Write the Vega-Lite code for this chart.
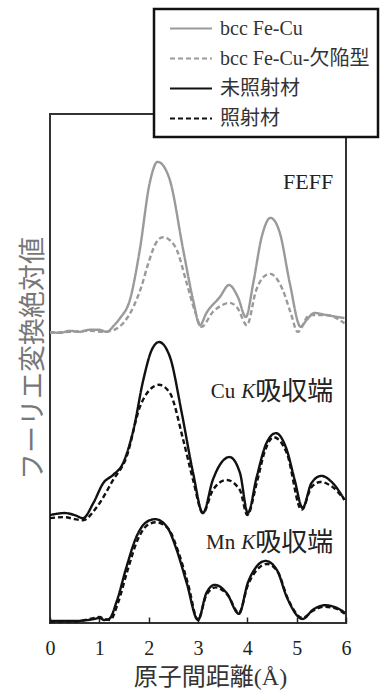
{
  "$schema": "https://vega.github.io/schema/vega-lite/v6.json",
  "width": 296,
  "height": 509,
  "autosize": {"type": "none"},
  "padding": {"left": 50, "top": 114, "right": 38, "bottom": 70},
  "background": "white",
  "config": {
    "view": {"stroke": "#333", "strokeWidth": 2},
    "font": "Liberation Serif"
  },
  "datasets": {
    "curves": [
      {"edge":"FEFF","series":"bcc Fe-Cu","r":0,"v":5.72},
      {"edge":"FEFF","series":"bcc Fe-Cu","r":0.2,"v":5.7},
      {"edge":"FEFF","series":"bcc Fe-Cu","r":0.4,"v":5.74},
      {"edge":"FEFF","series":"bcc Fe-Cu","r":0.6,"v":5.72},
      {"edge":"FEFF","series":"bcc Fe-Cu","r":0.8,"v":5.76},
      {"edge":"FEFF","series":"bcc Fe-Cu","r":1.0,"v":5.76},
      {"edge":"FEFF","series":"bcc Fe-Cu","r":1.15,"v":5.72},
      {"edge":"FEFF","series":"bcc Fe-Cu","r":1.3,"v":5.85},
      {"edge":"FEFF","series":"bcc Fe-Cu","r":1.42,"v":5.99},
      {"edge":"FEFF","series":"bcc Fe-Cu","r":1.62,"v":6.35},
      {"edge":"FEFF","series":"bcc Fe-Cu","r":1.82,"v":7.33},
      {"edge":"FEFF","series":"bcc Fe-Cu","r":2.02,"v":8.64},
      {"edge":"FEFF","series":"bcc Fe-Cu","r":2.18,"v":9.06},
      {"edge":"FEFF","series":"bcc Fe-Cu","r":2.3,"v":8.98},
      {"edge":"FEFF","series":"bcc Fe-Cu","r":2.43,"v":8.7},
      {"edge":"FEFF","series":"bcc Fe-Cu","r":2.7,"v":7.33},
      {"edge":"FEFF","series":"bcc Fe-Cu","r":2.9,"v":6.35},
      {"edge":"FEFF","series":"bcc Fe-Cu","r":3.04,"v":5.85},
      {"edge":"FEFF","series":"bcc Fe-Cu","r":3.17,"v":6.09},
      {"edge":"FEFF","series":"bcc Fe-Cu","r":3.44,"v":6.4},
      {"edge":"FEFF","series":"bcc Fe-Cu","r":3.63,"v":6.64},
      {"edge":"FEFF","series":"bcc Fe-Cu","r":3.81,"v":6.4},
      {"edge":"FEFF","series":"bcc Fe-Cu","r":3.97,"v":6.01},
      {"edge":"FEFF","series":"bcc Fe-Cu","r":4.12,"v":6.68},
      {"edge":"FEFF","series":"bcc Fe-Cu","r":4.29,"v":7.58},
      {"edge":"FEFF","series":"bcc Fe-Cu","r":4.47,"v":7.96},
      {"edge":"FEFF","series":"bcc Fe-Cu","r":4.66,"v":7.66},
      {"edge":"FEFF","series":"bcc Fe-Cu","r":4.86,"v":6.68},
      {"edge":"FEFF","series":"bcc Fe-Cu","r":5.08,"v":5.82},
      {"edge":"FEFF","series":"bcc Fe-Cu","r":5.2,"v":5.95},
      {"edge":"FEFF","series":"bcc Fe-Cu","r":5.36,"v":6.09},
      {"edge":"FEFF","series":"bcc Fe-Cu","r":5.6,"v":6.05},
      {"edge":"FEFF","series":"bcc Fe-Cu","r":5.97,"v":5.99},

      {"edge":"FEFF","series":"bcc Fe-Cu-欠陥型","r":0,"v":5.7},
      {"edge":"FEFF","series":"bcc Fe-Cu-欠陥型","r":0.4,"v":5.72},
      {"edge":"FEFF","series":"bcc Fe-Cu-欠陥型","r":0.8,"v":5.74},
      {"edge":"FEFF","series":"bcc Fe-Cu-欠陥型","r":1.1,"v":5.72},
      {"edge":"FEFF","series":"bcc Fe-Cu-欠陥型","r":1.3,"v":5.76},
      {"edge":"FEFF","series":"bcc Fe-Cu-欠陥型","r":1.5,"v":5.91},
      {"edge":"FEFF","series":"bcc Fe-Cu-欠陥型","r":1.7,"v":6.23},
      {"edge":"FEFF","series":"bcc Fe-Cu-欠陥型","r":1.85,"v":6.6},
      {"edge":"FEFF","series":"bcc Fe-Cu-欠陥型","r":2.0,"v":7.09},
      {"edge":"FEFF","series":"bcc Fe-Cu-欠陥型","r":2.15,"v":7.47},
      {"edge":"FEFF","series":"bcc Fe-Cu-欠陥型","r":2.29,"v":7.58},
      {"edge":"FEFF","series":"bcc Fe-Cu-欠陥型","r":2.43,"v":7.52},
      {"edge":"FEFF","series":"bcc Fe-Cu-欠陥型","r":2.57,"v":7.33},
      {"edge":"FEFF","series":"bcc Fe-Cu-欠陥型","r":2.77,"v":6.68},
      {"edge":"FEFF","series":"bcc Fe-Cu-欠陥型","r":2.93,"v":6.15},
      {"edge":"FEFF","series":"bcc Fe-Cu-欠陥型","r":3.07,"v":5.82},
      {"edge":"FEFF","series":"bcc Fe-Cu-欠陥型","r":3.3,"v":6.11},
      {"edge":"FEFF","series":"bcc Fe-Cu-欠陥型","r":3.5,"v":6.25},
      {"edge":"FEFF","series":"bcc Fe-Cu-欠陥型","r":3.64,"v":6.29},
      {"edge":"FEFF","series":"bcc Fe-Cu-欠陥型","r":3.8,"v":6.19},
      {"edge":"FEFF","series":"bcc Fe-Cu-欠陥型","r":3.99,"v":5.85},
      {"edge":"FEFF","series":"bcc Fe-Cu-欠陥型","r":4.18,"v":6.54},
      {"edge":"FEFF","series":"bcc Fe-Cu-欠陥型","r":4.33,"v":6.8},
      {"edge":"FEFF","series":"bcc Fe-Cu-欠陥型","r":4.47,"v":6.86},
      {"edge":"FEFF","series":"bcc Fe-Cu-欠陥型","r":4.6,"v":6.76},
      {"edge":"FEFF","series":"bcc Fe-Cu-欠陥型","r":4.72,"v":6.54},
      {"edge":"FEFF","series":"bcc Fe-Cu-欠陥型","r":4.88,"v":6.09},
      {"edge":"FEFF","series":"bcc Fe-Cu-欠陥型","r":5.02,"v":5.72},
      {"edge":"FEFF","series":"bcc Fe-Cu-欠陥型","r":5.26,"v":6.05},
      {"edge":"FEFF","series":"bcc Fe-Cu-欠陥型","r":5.6,"v":6.05},
      {"edge":"FEFF","series":"bcc Fe-Cu-欠陥型","r":5.97,"v":5.89},

      {"edge":"Cu","series":"未照射材","r":0,"v":2.12},
      {"edge":"Cu","series":"未照射材","r":0.3,"v":2.16},
      {"edge":"Cu","series":"未照射材","r":0.5,"v":2.12},
      {"edge":"Cu","series":"未照射材","r":0.67,"v":2.06},
      {"edge":"Cu","series":"未照射材","r":0.88,"v":2.36},
      {"edge":"Cu","series":"未照射材","r":1.08,"v":2.75},
      {"edge":"Cu","series":"未照射材","r":1.28,"v":2.91},
      {"edge":"Cu","series":"未照射材","r":1.48,"v":3.14},
      {"edge":"Cu","series":"未照射材","r":1.69,"v":3.79},
      {"edge":"Cu","series":"未照射材","r":1.89,"v":4.77},
      {"edge":"Cu","series":"未照射材","r":2.06,"v":5.36},
      {"edge":"Cu","series":"未照射材","r":2.21,"v":5.52},
      {"edge":"Cu","series":"未照射材","r":2.43,"v":5.23},
      {"edge":"Cu","series":"未照射材","r":2.67,"v":4.13},
      {"edge":"Cu","series":"未照射材","r":2.9,"v":2.95},
      {"edge":"Cu","series":"未照射材","r":3.1,"v":2.16},
      {"edge":"Cu","series":"未照射材","r":3.3,"v":2.81},
      {"edge":"Cu","series":"未照射材","r":3.48,"v":3.16},
      {"edge":"Cu","series":"未照射材","r":3.64,"v":3.26},
      {"edge":"Cu","series":"未照射材","r":3.85,"v":2.95},
      {"edge":"Cu","series":"未照射材","r":4.01,"v":2.16},
      {"edge":"Cu","series":"未照射材","r":4.19,"v":2.87},
      {"edge":"Cu","series":"未照射材","r":4.39,"v":3.54},
      {"edge":"Cu","series":"未照射材","r":4.58,"v":3.73},
      {"edge":"Cu","series":"未照射材","r":4.8,"v":3.4},
      {"edge":"Cu","series":"未照射材","r":4.96,"v":2.81},
      {"edge":"Cu","series":"未照射材","r":5.12,"v":2.26},
      {"edge":"Cu","series":"未照射材","r":5.3,"v":2.75},
      {"edge":"Cu","series":"未照射材","r":5.5,"v":2.89},
      {"edge":"Cu","series":"未照射材","r":5.73,"v":2.75},
      {"edge":"Cu","series":"未照射材","r":5.97,"v":2.42},

      {"edge":"Cu","series":"照射材","r":0,"v":2.06},
      {"edge":"Cu","series":"照射材","r":0.3,"v":2.08},
      {"edge":"Cu","series":"照射材","r":0.5,"v":2.04},
      {"edge":"Cu","series":"照射材","r":0.67,"v":2.02},
      {"edge":"Cu","series":"照射材","r":0.95,"v":2.28},
      {"edge":"Cu","series":"照射材","r":1.28,"v":2.81},
      {"edge":"Cu","series":"照射材","r":1.55,"v":3.26},
      {"edge":"Cu","series":"照射材","r":1.82,"v":4.24},
      {"edge":"Cu","series":"照射材","r":2.02,"v":4.58},
      {"edge":"Cu","series":"照射材","r":2.21,"v":4.68},
      {"edge":"Cu","series":"照射材","r":2.43,"v":4.52},
      {"edge":"Cu","series":"照射材","r":2.7,"v":3.6},
      {"edge":"Cu","series":"照射材","r":2.9,"v":2.81},
      {"edge":"Cu","series":"照射材","r":3.1,"v":2.16},
      {"edge":"Cu","series":"照射材","r":3.3,"v":2.61},
      {"edge":"Cu","series":"照射材","r":3.58,"v":2.81},
      {"edge":"Cu","series":"照射材","r":3.85,"v":2.61},
      {"edge":"Cu","series":"照射材","r":4.0,"v":2.12},
      {"edge":"Cu","series":"照射材","r":4.19,"v":2.75},
      {"edge":"Cu","series":"照射材","r":4.35,"v":3.36},
      {"edge":"Cu","series":"照射材","r":4.53,"v":3.65},
      {"edge":"Cu","series":"照射材","r":4.8,"v":3.34},
      {"edge":"Cu","series":"照射材","r":5.1,"v":2.22},
      {"edge":"Cu","series":"照射材","r":5.3,"v":2.67},
      {"edge":"Cu","series":"照射材","r":5.48,"v":2.77},
      {"edge":"Cu","series":"照射材","r":5.73,"v":2.67},
      {"edge":"Cu","series":"照射材","r":5.97,"v":2.42},

      {"edge":"Mn","series":"未照射材","r":0,"v":0.04},
      {"edge":"Mn","series":"未照射材","r":0.5,"v":0.04},
      {"edge":"Mn","series":"未照射材","r":0.9,"v":0.08},
      {"edge":"Mn","series":"未照射材","r":1.0,"v":0.1},
      {"edge":"Mn","series":"未照射材","r":1.1,"v":0.06},
      {"edge":"Mn","series":"未照射材","r":1.2,"v":0.08},
      {"edge":"Mn","series":"未照射材","r":1.36,"v":0.45},
      {"edge":"Mn","series":"未照射材","r":1.55,"v":1.1},
      {"edge":"Mn","series":"未照射材","r":1.75,"v":1.69},
      {"edge":"Mn","series":"未照射材","r":1.95,"v":1.98},
      {"edge":"Mn","series":"未照射材","r":2.13,"v":2.04},
      {"edge":"Mn","series":"未照射材","r":2.37,"v":1.89},
      {"edge":"Mn","series":"未照射材","r":2.57,"v":1.43},
      {"edge":"Mn","series":"未照射材","r":2.77,"v":0.79},
      {"edge":"Mn","series":"未照射材","r":3.0,"v":0.06},
      {"edge":"Mn","series":"未照射材","r":3.17,"v":0.59},
      {"edge":"Mn","series":"未照射材","r":3.34,"v":0.75},
      {"edge":"Mn","series":"未照射材","r":3.58,"v":0.59},
      {"edge":"Mn","series":"未照射材","r":3.83,"v":0.18},
      {"edge":"Mn","series":"未照射材","r":4.01,"v":0.79},
      {"edge":"Mn","series":"未照射材","r":4.18,"v":1.1},
      {"edge":"Mn","series":"未照射材","r":4.37,"v":1.22},
      {"edge":"Mn","series":"未照射材","r":4.6,"v":1.04},
      {"edge":"Mn","series":"未照射材","r":4.8,"v":0.51},
      {"edge":"Mn","series":"未照射材","r":5.12,"v":0.08},
      {"edge":"Mn","series":"未照射材","r":5.33,"v":0.26},
      {"edge":"Mn","series":"未照射材","r":5.57,"v":0.35},
      {"edge":"Mn","series":"未照射材","r":5.83,"v":0.29},
      {"edge":"Mn","series":"未照射材","r":5.98,"v":0.2},

      {"edge":"Mn","series":"照射材","r":0,"v":0.03},
      {"edge":"Mn","series":"照射材","r":0.5,"v":0.03},
      {"edge":"Mn","series":"照射材","r":0.9,"v":0.1},
      {"edge":"Mn","series":"照射材","r":1.0,"v":0.12},
      {"edge":"Mn","series":"照射材","r":1.1,"v":0.08},
      {"edge":"Mn","series":"照射材","r":1.22,"v":0.06},
      {"edge":"Mn","series":"照射材","r":1.38,"v":0.4},
      {"edge":"Mn","series":"照射材","r":1.57,"v":1.03},
      {"edge":"Mn","series":"照射材","r":1.77,"v":1.62},
      {"edge":"Mn","series":"照射材","r":1.97,"v":1.92},
      {"edge":"Mn","series":"照射材","r":2.15,"v":1.98},
      {"edge":"Mn","series":"照射材","r":2.4,"v":1.85},
      {"edge":"Mn","series":"照射材","r":2.6,"v":1.4},
      {"edge":"Mn","series":"照射材","r":2.8,"v":0.76},
      {"edge":"Mn","series":"照射材","r":3.0,"v":0.06},
      {"edge":"Mn","series":"照射材","r":3.17,"v":0.55},
      {"edge":"Mn","series":"照射材","r":3.36,"v":0.7},
      {"edge":"Mn","series":"照射材","r":3.6,"v":0.55},
      {"edge":"Mn","series":"照射材","r":3.83,"v":0.2},
      {"edge":"Mn","series":"照射材","r":4.01,"v":0.74},
      {"edge":"Mn","series":"照射材","r":4.2,"v":1.05},
      {"edge":"Mn","series":"照射材","r":4.4,"v":1.16},
      {"edge":"Mn","series":"照射材","r":4.62,"v":1.0},
      {"edge":"Mn","series":"照射材","r":4.82,"v":0.48},
      {"edge":"Mn","series":"照射材","r":5.12,"v":0.1},
      {"edge":"Mn","series":"照射材","r":5.33,"v":0.24},
      {"edge":"Mn","series":"照射材","r":5.57,"v":0.32},
      {"edge":"Mn","series":"照射材","r":5.83,"v":0.27},
      {"edge":"Mn","series":"照射材","r":5.98,"v":0.18}
    ],
    "notes": [
      {"key":"FEFF","r":5.74,"v":8.66},
      {"key":"Cu","r":5.74,"v":4.54},
      {"key":"Mn","r":5.74,"v":1.57}
    ]
  },
  "layer": [
    {
      "data": {"name": "curves"},
      "mark": {"type": "line", "strokeWidth": 2.4, "interpolate": "monotone"},
      "encoding": {
        "x": {
          "field": "r", "type": "quantitative",
          "scale": {"domain": [0, 6], "nice": false},
          "axis": {
            "values": [0, 1, 2, 3, 4, 5, 6],
            "domain": false, "grid": false, "labelFlush": false, "labelOverlap": false,
            "tickSize": -6, "tickColor": "#222", "tickWidth": 1.5,
            "labelPadding": 21, "labelFont": "Liberation Serif", "labelFontSize": 20, "labelColor": "#222",
            "title": "原子間距離(Å)", "titleFont": "Liberation Serif, Noto Sans CJK JP", "titleFontSize": 24,
            "titleFontWeight": "normal", "titleColor": "#333",
            "titleX": 160, "titleY": 54, "titleBaseline": "middle", "titleAlign": "center"
          }
        },
        "y": {
          "field": "v", "type": "quantitative",
          "scale": {"domain": [0, 10], "nice": false},
          "axis": {
            "domain": false, "grid": false, "ticks": false, "labels": false,
            "title": "フーリエ変換絶対値", "titleFont": "Noto Sans CJK JP", "titleFontSize": 27,
            "titleFontWeight": "normal", "titleColor": "#777",
            "titleX": -17, "titleY": 244, "titleBaseline": "middle", "titleAlign": "center"
          }
        },
        "color": {
          "field": "series", "type": "nominal",
          "scale": {"domain": ["bcc Fe-Cu", "bcc Fe-Cu-欠陥型", "未照射材", "照射材"], "range": ["#9a9a9a", "#9a9a9a", "#111111", "#111111"]},
          "legend": {
            "orient": "none", "legendX": 104, "legendY": -105, "direction": "vertical",
            "title": null, "strokeColor": "#111", "fillColor": "white",
            "padding": 8, "rowPadding": 8,
            "labelFont": "Liberation Serif, Noto Sans CJK JP", "labelFontSize": 20, "labelColor": "#333",
            "symbolType": "M-2,0H2", "symbolSize": 441, "symbolStrokeWidth": 2,
            "symbolOffset": 17.5, "labelOffset": 17.5, "labelLimit": 300,
            "encode": {"legend": {"update": {"strokeWidth": {"value": 2.5}}}}
          }
        },
        "strokeDash": {
          "field": "series", "type": "nominal",
          "scale": {"domain": ["bcc Fe-Cu", "bcc Fe-Cu-欠陥型", "未照射材", "照射材"], "range": [[1, 0], [5, 3], [1, 0], [5, 3]]},
          "legend": null
        },
        "detail": {"field": "edge", "type": "nominal"}
      }
    },
    {
      "data": {"name": "notes"},
      "transform": [{"filter": "datum.key === 'FEFF'"}],
      "mark": {"type": "text", "align": "right", "baseline": "middle", "font": "Liberation Serif", "fontSize": 22, "color": "#222"},
      "encoding": {
        "x": {"field": "r", "type": "quantitative"},
        "y": {"field": "v", "type": "quantitative"},
        "text": {"field": "key"}
      }
    },
    {
      "data": {"name": "notes"},
      "transform": [{"filter": "datum.key !== 'FEFF'"}],
      "mark": {"type": "text", "align": "right", "baseline": "middle", "font": "Noto Sans CJK JP", "fontSize": 26, "color": "#222", "text": "吸収端"},
      "encoding": {
        "x": {"field": "r", "type": "quantitative"},
        "y": {"field": "v", "type": "quantitative"}
      }
    },
    {
      "data": {"name": "notes"},
      "transform": [{"filter": "datum.key !== 'FEFF'"}],
      "mark": {"type": "text", "align": "right", "baseline": "middle", "font": "Liberation Serif", "fontStyle": "italic", "fontSize": 21, "color": "#222", "text": "K", "dx": -78},
      "encoding": {
        "x": {"field": "r", "type": "quantitative"},
        "y": {"field": "v", "type": "quantitative"}
      }
    },
    {
      "data": {"name": "notes"},
      "transform": [{"filter": "datum.key !== 'FEFF'"}],
      "mark": {"type": "text", "align": "right", "baseline": "middle", "font": "Liberation Serif", "fontSize": 21, "color": "#222", "dx": -98},
      "encoding": {
        "x": {"field": "r", "type": "quantitative"},
        "y": {"field": "v", "type": "quantitative"},
        "text": {"field": "key"}
      }
    }
  ]
}
